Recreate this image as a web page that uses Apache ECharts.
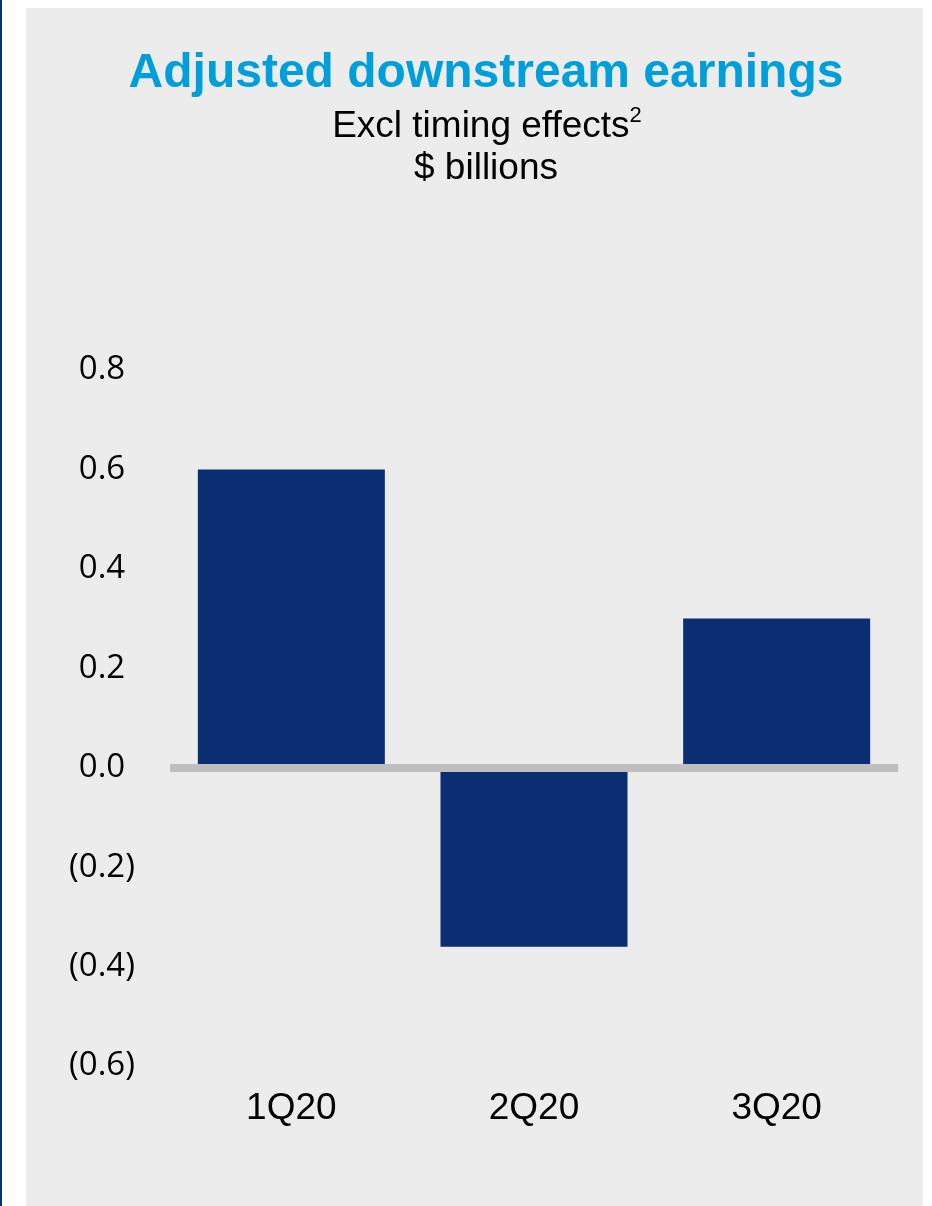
<!DOCTYPE html>
<html>
<head>
<meta charset="utf-8">
<script src="https://cdn.jsdelivr.net/npm/echarts@6/dist/echarts.min.js"></script>
<style>
html,body{margin:0;padding:0;background:#fff;}
#chart{width:932px;height:1206px;}
</style>
</head>
<body>
<div id="chart"></div>
<script>
var quarters = ['1Q20', '2Q20', '3Q20'];
var earnings = [0.6, -0.36, 0.3];
var yTicks = { min: -0.6, max: 0.8, step: 0.2 };

var chart = echarts.init(document.getElementById('chart'));

function fmt(v) {
    var s = Math.abs(v).toFixed(1);
    return v < -0.001 ? '(' + s + ')' : s;
}

var subFont = 'Liberation Sans, Arial';

chart.setOption({
    backgroundColor: '#ffffff',
    animation: false,
    graphic: [
        { type: 'rect', shape: { x: 26, y: 8, width: 897, height: 1198 }, style: { fill: '#ececec' }, z: -10 },
        { type: 'rect', shape: { x: 0, y: 0, width: 2, height: 1206 }, style: { fill: '#0b2d71' }, z: -10 }
    ],
    title: [
        {
            text: 'Adjusted downstream earnings',
            left: 481, top: 45, textAlign: 'center',
            textStyle: { fontFamily: 'Liberation Sans, Arial', fontWeight: 'bold', fontSize: 48, color: '#009fdb' }
        },
        {
            text: '{a|Excl timing effects}{s|2}',
            left: 482, top: 100, textAlign: 'center',
            textStyle: {
                fontWeight: 'normal',
                rich: {
                    a: { fontFamily: subFont, fontWeight: 'normal', fontSize: 37, color: '#000', lineHeight: 43 },
                    s: { fontFamily: subFont, fontWeight: 'normal', fontSize: 22, color: '#000', lineHeight: 43, verticalAlign: 'top', padding: [0, 0, 12, 0] }
                }
            }
        },
        {
            text: '$ billions',
            left: 481, top: 142, textAlign: 'center',
            textStyle: { fontFamily: subFont, fontWeight: 'normal', fontSize: 37, lineHeight: 43, color: '#000' }
        }
    ],
    grid: { left: 170, right: 34, top: 370, bottom: 140 },
    xAxis: {
        type: 'category',
        data: quarters,
        position: 'bottom',
        axisLine: { show: false, onZero: false },
        axisTick: { show: false },
        axisLabel: { margin: 24, fontFamily: 'Liberation Sans, Arial', fontSize: 37, color: '#000' }
    },
    yAxis: {
        type: 'value',
        min: yTicks.min, max: yTicks.max, interval: yTicks.step,
        axisLine: { show: false },
        axisTick: { show: false },
        splitLine: { show: false },
        axisLabel: {
            margin: 68, align: 'center',
            fontFamily: 'Open Sans, Noto Sans', fontSize: 33, color: '#000',
            formatter: fmt
        }
    },
    series: [{
        type: 'bar',
        data: earnings,
        barWidth: 187,
        itemStyle: { color: '#0b2d71' },
        markLine: {
            silent: true,
            symbol: 'none',
            label: { show: false },
            lineStyle: { color: '#bfbfbf', width: 8, type: 'solid' },
            data: [{ yAxis: 0 }]
        }
    }]
});
</script>
</body>
</html>
